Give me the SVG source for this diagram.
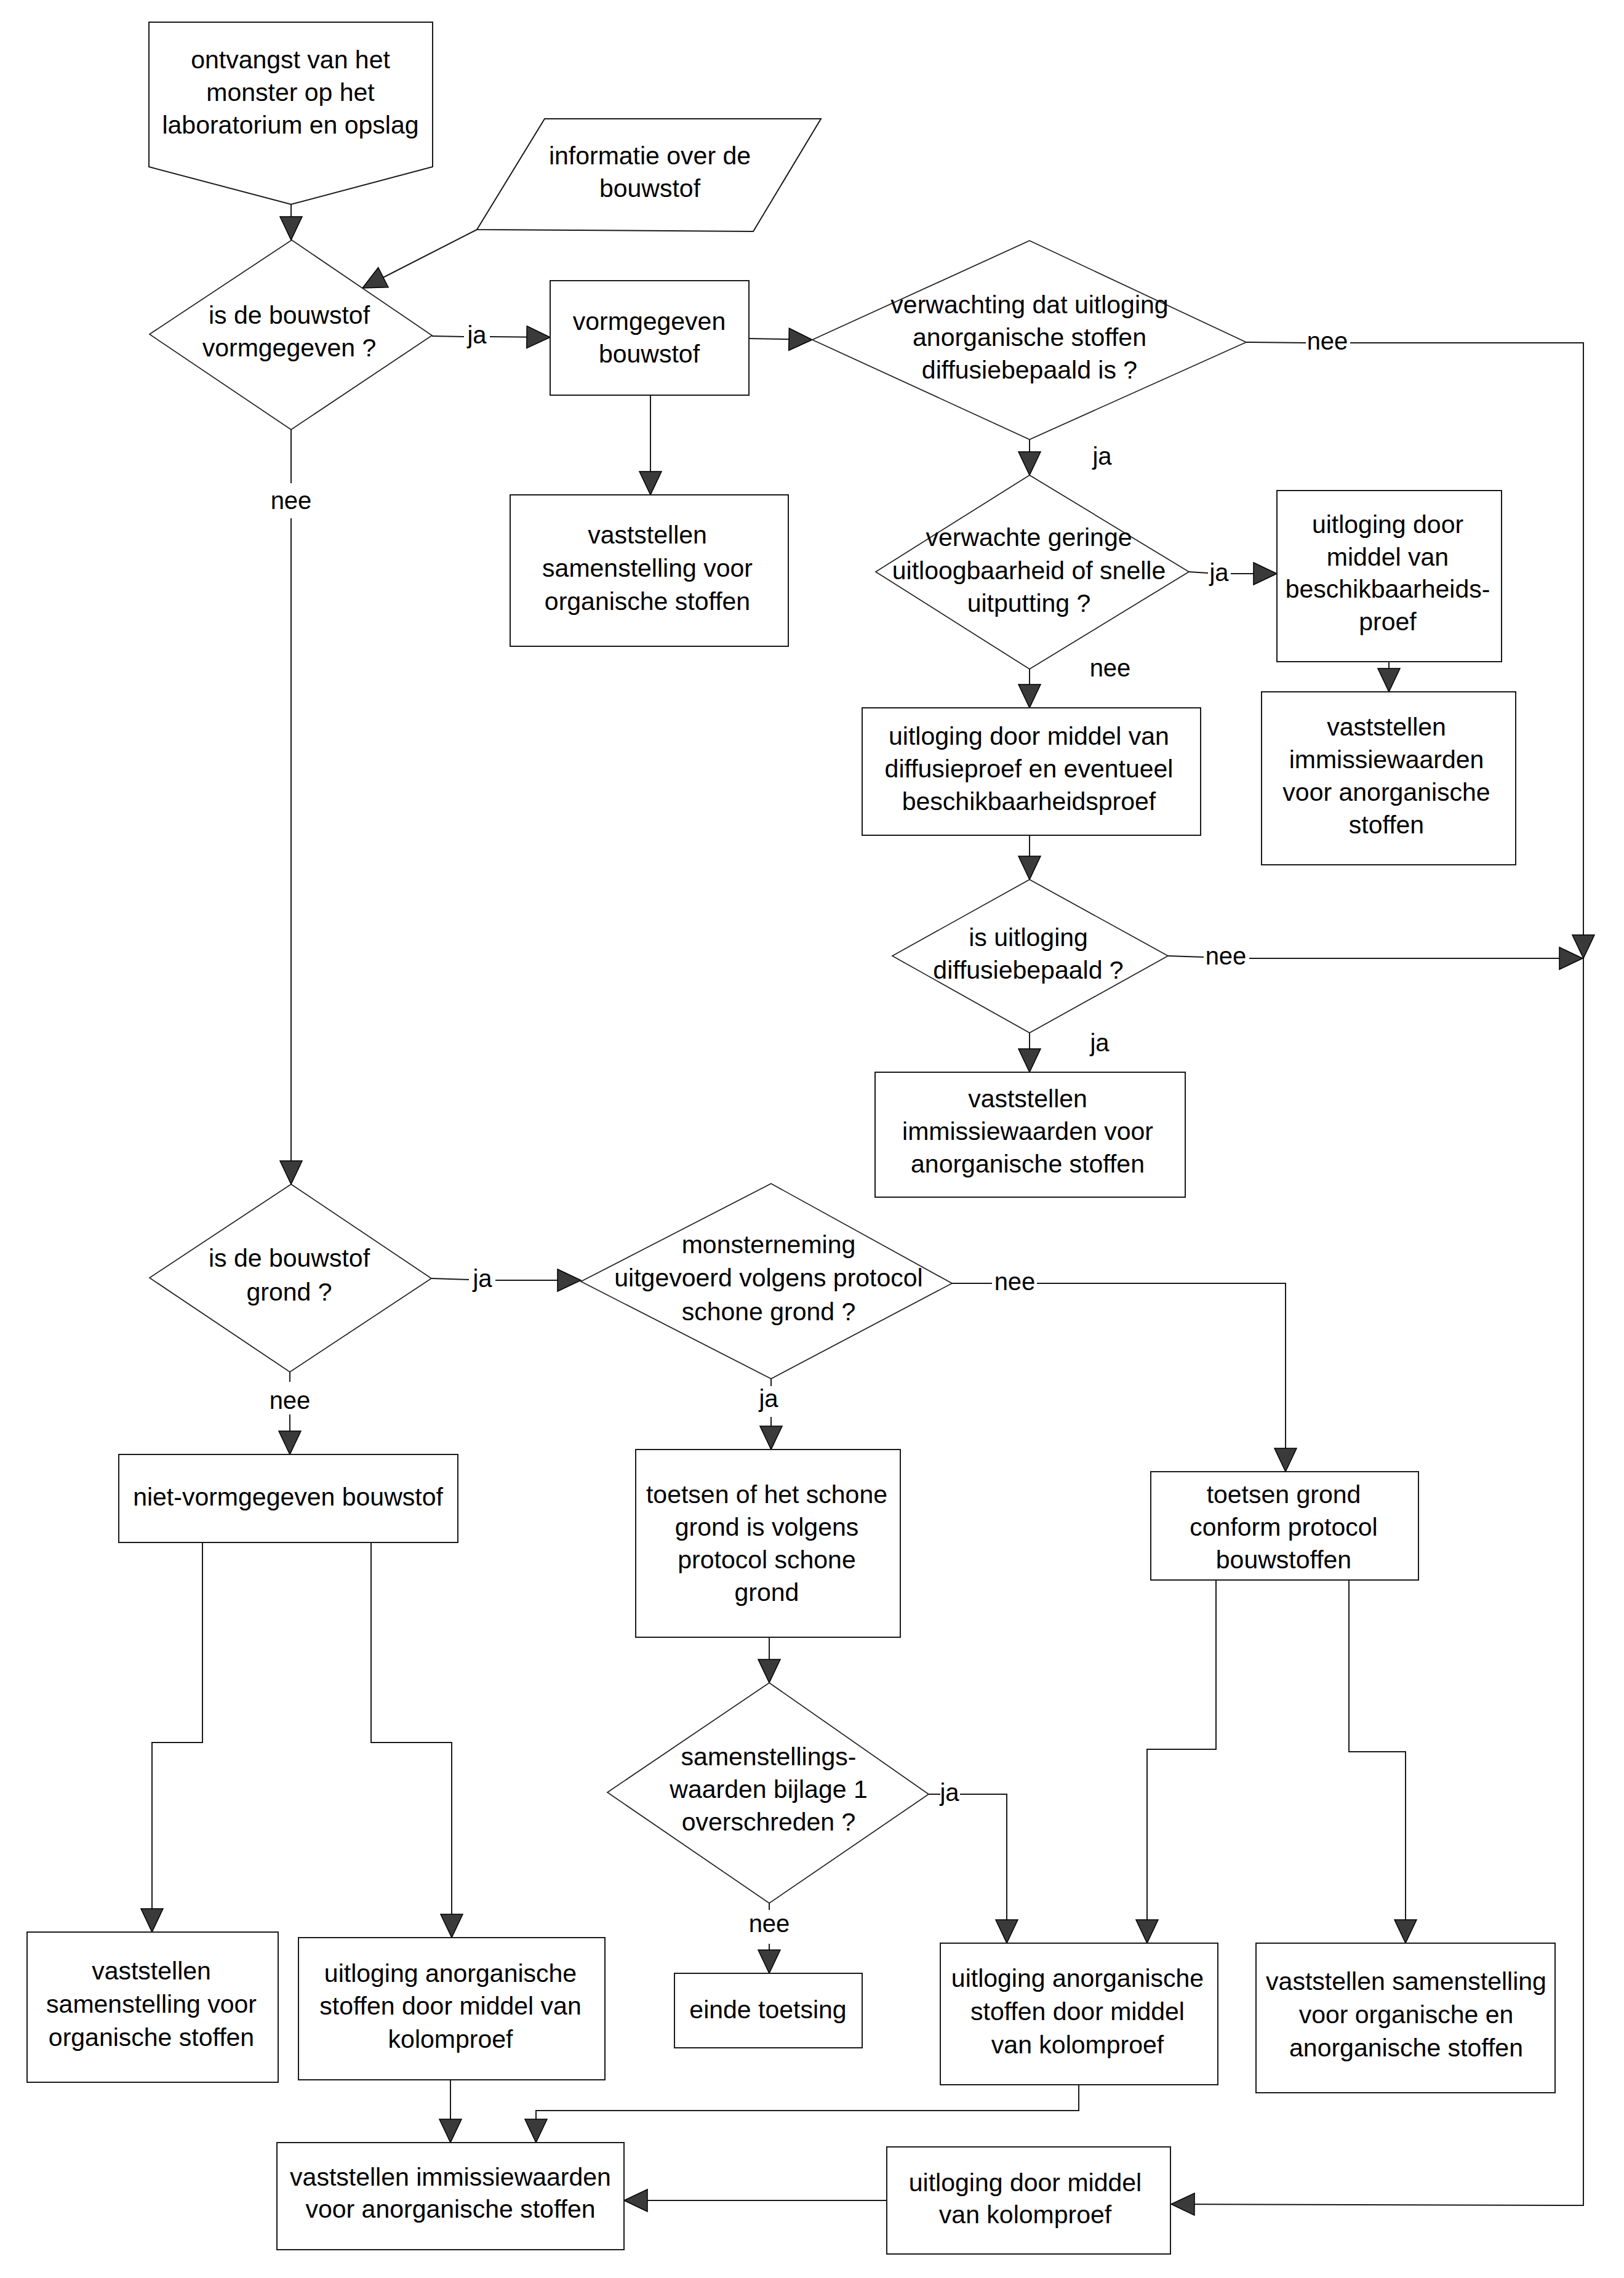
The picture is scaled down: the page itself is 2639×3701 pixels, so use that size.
<svg xmlns="http://www.w3.org/2000/svg" width="2639" height="3701" viewBox="0 0 2639 3701">
<style>
.shape{fill:#fff;stroke:#1a1a1a;stroke-width:2}
.dia{fill:#fff;stroke:#222;stroke-width:1.7}
.t{font-family:"Liberation Sans",Arial,sans-serif;font-size:41px;text-anchor:middle;fill:#000}
.lbl{font-family:"Liberation Sans",Arial,sans-serif;font-size:40px;text-anchor:middle;fill:#000}
.c{fill:none;stroke:#1a1a1a;stroke-width:2}
.ca{fill:none;stroke:#1a1a1a;stroke-width:2;marker-end:url(#ah)}
</style>
<defs>
<marker id="ah" markerUnits="userSpaceOnUse" markerWidth="42" markerHeight="40" refX="39" refY="19" orient="auto">
<path d="M1,1 L39,19 L1,37 Z" fill="#3a3a3a" stroke="#000" stroke-width="1.5"/>
</marker>
</defs>
<rect width="2639" height="3701" fill="#fff"/>

<g id="connectors">
<path class="ca" d="M473,332 L473,390"/>
<path class="ca" d="M775,373 L589,468"/>
<path class="c" d="M702,546 L754,547"/>
<path class="ca" d="M796,547 L894,548"/>
<path class="ca" d="M1217,550 L1320,552"/>
<path class="ca" d="M1057,642 L1057,804"/>
<path class="c" d="M2025,556 L2122,557"/>
<path class="ca" d="M2194,557 L2573,557 L2573,1557"/>
<path class="ca" d="M2573,1557 L2573,3583 L1903,3581"/>
<path class="ca" d="M1673,714 L1673,772"/>
<path class="c" d="M1932,929 L1963,931"/>
<path class="ca" d="M2000,932 L2075,932"/>
<path class="ca" d="M2257,1075 L2257,1124"/>
<path class="ca" d="M1673,1087 L1673,1150"/>
<path class="ca" d="M1673,1357 L1673,1429"/>
<path class="c" d="M1898,1553 L1956,1555"/>
<path class="ca" d="M2030,1557 L2572,1557"/>
<path class="ca" d="M1673,1678 L1673,1742"/>
<path class="c" d="M473,698 L473,785"/>
<path class="ca" d="M473,842 L473,1924"/>
<path class="c" d="M701,2077 L762,2079"/>
<path class="ca" d="M805,2080 L944,2080"/>
<path class="c" d="M471,2229 L471,2245"/>
<path class="ca" d="M471,2298 L471,2363"/>
<path class="c" d="M1547,2085 L1612,2085"/>
<path class="ca" d="M1685,2085 L2089,2085 L2089,2391"/>
<path class="c" d="M1253,2240 L1253,2252"/>
<path class="ca" d="M1253,2302 L1253,2355"/>
<path class="ca" d="M1250,2660 L1250,2734"/>
<path class="c" d="M1509,2915 L1528,2915"/>
<path class="ca" d="M1560,2915 L1636,2915 L1636,3157"/>
<path class="c" d="M1250,3092 L1250,3103"/>
<path class="ca" d="M1250,3158 L1250,3206"/>
<path class="ca" d="M1976,2567 L1976,2842 L1864,2842 L1864,3157"/>
<path class="ca" d="M2192,2567 L2192,2846 L2284,2846 L2284,3157"/>
<path class="ca" d="M329,2506 L329,2831 L247,2831 L247,3139"/>
<path class="ca" d="M603,2506 L603,2831 L734,2831 L734,3148"/>
<path class="ca" d="M732,3379 L732,3481"/>
<path class="ca" d="M1753,3387 L1753,3429 L871,3429 L871,3481"/>
<path class="ca" d="M1441,3575 L1014,3575"/>
<text class="lbl" x="775" y="558">ja</text>
<text class="lbl" x="2157" y="568">nee</text>
<text class="lbl" x="1791" y="755">ja</text>
<text class="lbl" x="1981" y="944">ja</text>
<text class="lbl" x="1804" y="1099">nee</text>
<text class="lbl" x="1992" y="1567">nee</text>
<text class="lbl" x="1787" y="1708">ja</text>
<text class="lbl" x="473" y="827">nee</text>
<text class="lbl" x="784" y="2091">ja</text>
<text class="lbl" x="471" y="2289">nee</text>
<text class="lbl" x="1649" y="2096">nee</text>
<text class="lbl" x="1249" y="2286">ja</text>
<text class="lbl" x="1543" y="2926">ja</text>
<text class="lbl" x="1250" y="3139">nee</text>
</g>

<g id="n_start">
<polygon class="shape" points="242,36 703,36 703,271 473,332 242,271"/>
<text class="t" x="472" y="111">ontvangst van het</text>
<text class="t" x="472" y="164">monster op het</text>
<text class="t" x="472" y="217">laboratorium en opslag</text>
</g>

<g id="n_info">
<polygon class="shape" points="885,193 1334,193 1224,376 775,373"/>
<text class="t" x="1056" y="267">informatie over de</text>
<text class="t" x="1056" y="320">bouwstof</text>
</g>

<g id="d_vorm">
<polygon class="dia" points="474,390 702,545 473,698 243,543"/>
<text class="t" x="470" y="526">is de bouwstof</text>
<text class="t" x="470" y="579">vormgegeven ?</text>
</g>

<g id="n_vormgegeven">
<rect class="shape" x="894" y="456" width="323" height="186"/>
<text class="t" x="1055" y="536">vormgegeven</text>
<text class="t" x="1055" y="589">bouwstof</text>
</g>

<g id="n_org_top">
<rect class="shape" x="829" y="804" width="452" height="246"/>
<text class="t" x="1052" y="883">vaststellen</text>
<text class="t" x="1052" y="937">samenstelling voor</text>
<text class="t" x="1052" y="991">organische stoffen</text>
</g>

<g id="d_verwachting">
<polygon class="dia" points="1673,391 2025,556 1673,714 1320,552"/>
<text class="t" x="1673" y="509">verwachting dat uitloging</text>
<text class="t" x="1673" y="562">anorganische stoffen</text>
<text class="t" x="1673" y="615">diffusiebepaald is ?</text>
</g>

<g id="d_gering">
<polygon class="dia" points="1673,772 1932,929 1673,1087 1423,929"/>
<text class="t" x="1672" y="887">verwachte geringe</text>
<text class="t" x="1672" y="941">uitloogbaarheid of snelle</text>
<text class="t" x="1672" y="994">uitputting ?</text>
</g>

<g id="n_beschik">
<rect class="shape" x="2075" y="797" width="365" height="278"/>
<text class="t" x="2255" y="866">uitloging door</text>
<text class="t" x="2255" y="919">middel van</text>
<text class="t" x="2255" y="971">beschikbaarheids-</text>
<text class="t" x="2255" y="1024">proef</text>
</g>

<g id="n_imm_right">
<rect class="shape" x="2050" y="1124" width="413" height="281"/>
<text class="t" x="2253" y="1195">vaststellen</text>
<text class="t" x="2253" y="1248">immissiewaarden</text>
<text class="t" x="2253" y="1301">voor anorganische</text>
<text class="t" x="2253" y="1354">stoffen</text>
</g>

<g id="n_diffusie">
<rect class="shape" x="1401" y="1150" width="550" height="207"/>
<text class="t" x="1672" y="1210">uitloging door middel van</text>
<text class="t" x="1672" y="1263">diffusieproef en eventueel</text>
<text class="t" x="1672" y="1316">beschikbaarheidsproef</text>
</g>

<g id="d_diffbepaald">
<polygon class="dia" points="1673,1429 1898,1553 1673,1678 1450,1553"/>
<text class="t" x="1671" y="1537">is uitloging</text>
<text class="t" x="1671" y="1590">diffusiebepaald ?</text>
</g>

<g id="n_imm_center">
<rect class="shape" x="1422" y="1742" width="504" height="203"/>
<text class="t" x="1670" y="1799">vaststellen</text>
<text class="t" x="1670" y="1852">immissiewaarden voor</text>
<text class="t" x="1670" y="1905">anorganische stoffen</text>
</g>

<g id="d_grond">
<polygon class="dia" points="473,1924 701,2077 471,2229 243,2076"/>
<text class="t" x="470" y="2058">is de bouwstof</text>
<text class="t" x="470" y="2113">grond ?</text>
</g>

<g id="d_monsterneming">
<polygon class="dia" points="1253,1923 1547,2085 1253,2240 944,2082"/>
<text class="t" x="1249" y="2036">monsterneming</text>
<text class="t" x="1249" y="2090">uitgevoerd volgens protocol</text>
<text class="t" x="1249" y="2145">schone grond ?</text>
</g>

<g id="n_nietvorm">
<rect class="shape" x="193" y="2363" width="551" height="143"/>
<text class="t" x="468" y="2446">niet-vormgegeven bouwstof</text>
</g>

<g id="n_toetsen_schoon">
<rect class="shape" x="1033" y="2355" width="430" height="305"/>
<text class="t" x="1246" y="2442">toetsen of het schone</text>
<text class="t" x="1246" y="2495">grond is volgens</text>
<text class="t" x="1246" y="2548">protocol schone</text>
<text class="t" x="1246" y="2601">grond</text>
</g>

<g id="n_toetsen_grond">
<rect class="shape" x="1870" y="2391" width="435" height="176"/>
<text class="t" x="2086" y="2442">toetsen grond</text>
<text class="t" x="2086" y="2495">conform protocol</text>
<text class="t" x="2086" y="2548">bouwstoffen</text>
</g>

<g id="d_samenstelling">
<polygon class="dia" points="1250,2734 1509,2915 1250,3092 987,2912"/>
<text class="t" x="1249" y="2868">samenstellings-</text>
<text class="t" x="1249" y="2921">waarden bijlage 1</text>
<text class="t" x="1249" y="2974">overschreden ?</text>
</g>

<g id="n_einde">
<rect class="shape" x="1096" y="3206" width="305" height="121"/>
<text class="t" x="1248" y="3279">einde toetsing</text>
</g>

<g id="n_org_left">
<rect class="shape" x="44" y="3139" width="408" height="244"/>
<text class="t" x="246" y="3216">vaststellen</text>
<text class="t" x="246" y="3270">samenstelling voor</text>
<text class="t" x="246" y="3324">organische stoffen</text>
</g>

<g id="n_kolom_left">
<rect class="shape" x="485" y="3148" width="498" height="231"/>
<text class="t" x="732" y="3220">uitloging anorganische</text>
<text class="t" x="732" y="3273">stoffen door middel van</text>
<text class="t" x="732" y="3327">kolomproef</text>
</g>

<g id="n_kolom_right">
<rect class="shape" x="1528" y="3157" width="451" height="230"/>
<text class="t" x="1751" y="3228">uitloging anorganische</text>
<text class="t" x="1751" y="3282">stoffen door middel</text>
<text class="t" x="1751" y="3336">van kolomproef</text>
</g>

<g id="n_org_anorg">
<rect class="shape" x="2041" y="3157" width="486" height="243"/>
<text class="t" x="2285" y="3233">vaststellen samenstelling</text>
<text class="t" x="2285" y="3287">voor organische en</text>
<text class="t" x="2285" y="3341">anorganische stoffen</text>
</g>

<g id="n_imm_bottom">
<rect class="shape" x="450" y="3481" width="564" height="174"/>
<text class="t" x="732" y="3551">vaststellen immissiewaarden</text>
<text class="t" x="732" y="3603">voor anorganische stoffen</text>
</g>

<g id="n_kolom_bottom">
<rect class="shape" x="1441" y="3488" width="461" height="174"/>
<text class="t" x="1666" y="3560">uitloging door middel</text>
<text class="t" x="1666" y="3612">van kolomproef</text>
</g>
</svg>
